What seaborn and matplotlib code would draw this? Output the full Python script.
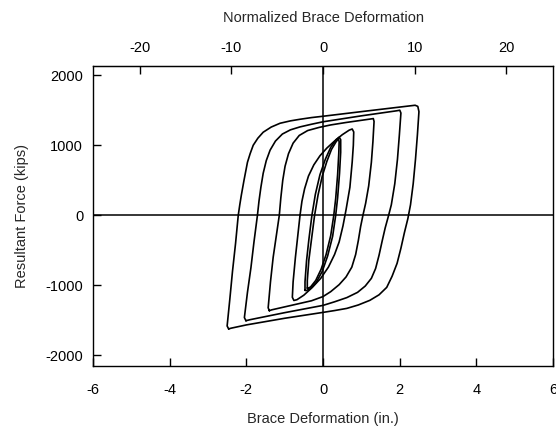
import matplotlib
matplotlib.use("Agg")
import matplotlib.pyplot as plt
import seaborn as sns
import pandas as pd

# ── loop traces (in., kips) ───────────────────────────────────
loop_a_x = [-2.46, -2.50, -2.43, -2.36, -2.28, -2.21, -2.17, -2.13, -2.06, -1.97, -1.90, -1.82, -1.70, -1.56,
            -1.35, -1.12, -0.85, -0.60, -0.30, 0.00, 1.00, 2.00, 2.40, 2.47,
            2.50, 2.46, 2.41, 2.35, 2.28, 2.21, 2.12, 2.03, 1.93, 1.80, 1.66, 1.46, 1.22, 0.92, 0.62, 0.30, 0.00,
            -1.00, -2.00, -2.40, -2.46]
loop_a_y = [-1622, -1580, -1200, -800, -400, 0, 150, 286, 500, 757, 880, 1000, 1100, 1186,
            1260, 1314, 1348, 1371, 1395, 1414, 1480, 1545, 1571, 1555,
            1480, 1150, 800, 450, 150, -50, -250, -470, -686, -870, -1029, -1135, -1214, -1280, -1329, -1360, -1386,
            -1470, -1565, -1612, -1622]

loop_b_x = [-2.01, -2.05, -1.97, -1.88, -1.80, -1.71, -1.67, -1.62, -1.56, -1.48, -1.38, -1.24, -1.06, -0.85,
            -0.60, -0.30, 0.00, 1.00, 1.92, 2.00,
            2.03, 1.99, 1.94, 1.87, 1.78, 1.70, 1.62, 1.54, 1.46, 1.37, 1.26, 1.10, 0.90, 0.62, 0.30, 0.00,
            -1.00, -1.90, -2.01]
loop_b_y = [-1505, -1460, -1100, -750, -380, 0, 200, 400, 600, 780, 930, 1060, 1160, 1220,
            1262, 1300, 1335, 1420, 1492, 1500,
            1460, 1150, 800, 450, 150, -20, -180, -370, -570, -760, -900, -1010, -1100, -1175, -1235, -1286,
            -1390, -1490, -1505]

loop_c_x = [-1.40, -1.43, -1.37, -1.30, -1.22, -1.14, -1.10, -1.05, -0.99, -0.90, -0.78, -0.62, -0.40, -0.10,
            0.20, 0.60, 1.28, 1.31,
            1.33, 1.30, 1.26, 1.19, 1.11, 1.04, 0.98, 0.92, 0.85, 0.75, 0.60, 0.42, 0.20, 0.00, -0.30,
            -0.70, -1.34, -1.40]
loop_c_y = [-1362, -1320, -950, -600, -300, 0, 250, 500, 700, 880, 1030, 1140, 1210, 1255,
            1290, 1325, 1378, 1381,
            1340, 1050, 757, 420, 170, 0, -160, -360, -560, -740, -880, -990, -1090, -1160, -1220,
            -1270, -1350, -1362]

loop_d_x = [-0.60, -0.55, -0.48, -0.38, -0.24, -0.08, 0.10, 0.30, 0.50, 0.68, 0.76,
            0.80, 0.79, 0.76, 0.70, 0.60, 0.52, 0.42, 0.30, 0.14, -0.06, -0.28, -0.50, -0.68, -0.76,
            -0.80, -0.78, -0.72, -0.66, -0.60]
loop_d_y = [0, 200, 380, 560, 720, 850, 960, 1060, 1150, 1215, 1232,
            1190, 1000, 760, 400, 80, -150, -380, -560, -740, -900, -1030, -1140, -1205, -1216,
            -1170, -950, -600, -300, 0]

loop_e_x = [-0.47, -0.47, -0.43, -0.37, -0.29, -0.20, -0.08, 0.06, 0.20, 0.34, 0.42,
            0.46, 0.46, 0.43, 0.38, 0.33, 0.25, 0.12, -0.02, -0.18, -0.34, -0.44, -0.47]
loop_e_y = [-1071, -950, -650, -350, 0, 300, 580, 800, 970, 1080, 1115,
            1080, 900, 600, 250, 0, -300, -580, -800, -960, -1050, -1075, -1071]

loop_f_x = [-0.41, -0.41, -0.37, -0.30, -0.22, -0.13, -0.02, 0.10, 0.22, 0.34, 0.40,
            0.42, 0.41, 0.38, 0.33, 0.28, 0.20, 0.08, -0.05, -0.19, -0.32, -0.39, -0.41]
loop_f_y = [-1040, -930, -640, -340, 0, 290, 560, 770, 940, 1050, 1090,
            1050, 880, 580, 240, 0, -290, -560, -770, -930, -1020, -1045, -1040]

loops = {
    "A": (loop_a_x, loop_a_y),
    "B": (loop_b_x, loop_b_y),
    "C": (loop_c_x, loop_c_y),
    "D": (loop_d_x, loop_d_y),
    "E": (loop_e_x, loop_e_y),
    "F": (loop_f_x, loop_f_y),
}

x_ticks = [-6, -4, -2, 0, 2, 4, 6]
y_ticks = [-2000, -1000, 0, 1000, 2000]
top_ticks = [-20, -10, 0, 10, 20]
NORM = 0.239  # in. per unit of normalized deformation

sns.set_style("ticks")
plt.rcParams['font.family'] = ['Liberation Sans', 'DejaVu Sans']
plt.rcParams['axes.unicode_minus'] = False

fig = plt.figure(figsize=(5.56, 4.32), dpi=100)
ax = fig.add_axes([0.167, 0.153, 0.828, 0.694])

for name, (xs, ys) in loops.items():
    df = pd.DataFrame({"x": xs, "y": ys})
    sns.lineplot(data=df, x="x", y="y", sort=False, estimator=None,
                 color="black", lw=1.2, ax=ax)

ax.axhline(0, color="black", lw=1.1)
ax.axvline(0, color="black", lw=1.1)

ax.set_xlim(-6, 6)
ax.set_ylim(-2150, 2130)
ax.set_xticks(x_ticks)
ax.set_yticks(y_ticks)
ax.tick_params(direction="in", length=6, width=1, labelsize=10.5, colors="black", pad=7)
ax.tick_params(axis="x", pad=12)
ax.set_xlabel("Brace Deformation (in.)", fontsize=10.5, labelpad=11)
ax.set_ylabel("Resultant Force (kips)", fontsize=10.5, labelpad=12)
for s in ax.spines.values():
    s.set_color("black")
    s.set_linewidth(1)

top = ax.secondary_xaxis("top", functions=(lambda v: v / NORM, lambda n: n * NORM))
top.set_xticks(top_ticks)
top.tick_params(direction="in", length=6, width=1, labelsize=10.5, colors="black", pad=8)
top.set_xlabel("Normalized Brace Deformation", fontsize=10.5, labelpad=14)

fig.savefig("out.png", dpi=100)
